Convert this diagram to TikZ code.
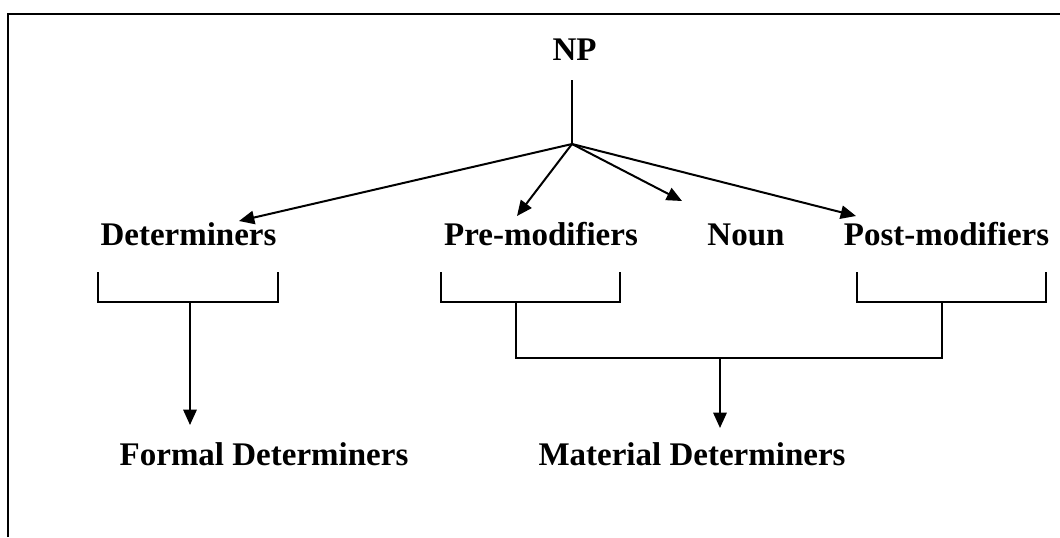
\documentclass[tikz,border=0pt]{standalone}
\usepackage{fontspec}
\setmainfont{Liberation Serif}
\usetikzlibrary{arrows.meta}
\begin{document}
\begin{tikzpicture}[x=0.75pt,y=-0.75pt,
  lbl/.style={font=\fontsize{24.75}{30}\selectfont\bfseries, anchor=base, inner sep=0pt},
  conn/.style={line width=1.5pt},
  arr/.style={conn, -{Triangle[length=11.5pt,width=10pt]}},
  frame/.style={line width=1.6pt}]
\useasboundingbox (0,0) rectangle (1060,537);
% frame (top and left sides)
\draw[frame] (8,537) -- (8,14) -- (1060,14);
% labels
\node[lbl] (np) at (574.5,60) {NP};
\node[lbl] (det) at (188.5,245) {Determiners};
\node[lbl] (pre) at (541,245) {Pre-modifiers};
\node[lbl] (noun) at (746,245) {Noun};
\node[lbl] (post) at (946.5,245) {Post-modifiers};
\node[lbl] (formal) at (264,465) {Formal Determiners};
\node[lbl] (material) at (692,465) {Material Determiners};
% coordinates
\coordinate (top) at (572,80);
\coordinate (j) at (572,144);
\coordinate (tdet) at (239,221);
\coordinate (tpre) at (517,216);
\coordinate (tnoun) at (682,201);
\coordinate (tpost) at (856,216);
\coordinate (dl) at (98,272);  \coordinate (dr) at (278,272);
\coordinate (pl) at (441,272); \coordinate (pr) at (620,272);
\coordinate (ql) at (857,272); \coordinate (qr) at (1046,272);
\coordinate (ds) at (190,302); \coordinate (dtip) at (190,425);
\coordinate (ps) at (516,302); \coordinate (pm) at (516,358);
\coordinate (qs) at (942,302); \coordinate (qm) at (942,358);
\coordinate (ms) at (720,358); \coordinate (mtip) at (720,428);
% connectors
\draw[conn] (top) -- (j);
\draw[arr] (j) -- (tdet);
\draw[arr] (j) -- (tpre);
\draw[arr] (j) -- (tnoun);
\draw[arr] (j) -- (tpost);
\draw[conn] (dl) -- ++(0,30) -| (dr);
\draw[conn] (pl) -- ++(0,30) -| (pr);
\draw[conn] (ql) -- ++(0,30) -| (qr);
\draw[arr] (ds) -- (dtip);
\draw[conn] (ps) -- (pm) -- (qm) -- (qs);
\draw[arr] (ms) -- (mtip);
\end{tikzpicture}
\end{document}
